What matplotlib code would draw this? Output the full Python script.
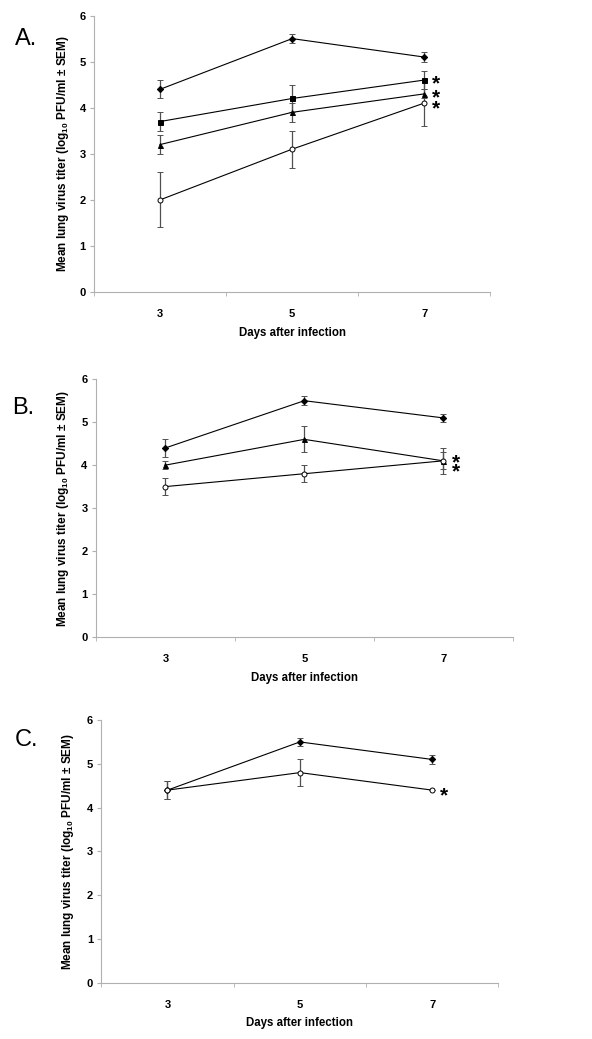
import matplotlib
matplotlib.use("Agg")
import matplotlib.pyplot as plt
from matplotlib.ticker import FixedLocator

plt.rcParams['font.family'] = ['Liberation Sans', 'DejaVu Sans']
plt.rcParams['mathtext.fontset'] = 'custom'
plt.rcParams['mathtext.rm'] = 'Liberation Sans:bold'
plt.rcParams['mathtext.bf'] = 'Liberation Sans:bold'

days = [3, 5, 7]

# panel A
a_diamond = [4.4, 5.5, 5.1]
a_diamond_err = [0.2, 0.1, 0.1]
a_square = [3.7, 4.2, 4.6]
a_square_err = [0.2, 0.3, 0.2]
a_triangle = [3.2, 3.9, 4.3]
a_triangle_err = [0.2, 0.2, 0.1]
a_circle = [2.0, 3.1, 4.1]
a_circle_err = [0.6, 0.4, 0.5]
a_stars = [4.6, 4.3, 4.06]

# panel B
b_diamond = [4.4, 5.5, 5.1]
b_diamond_err = [0.2, 0.1, 0.1]
b_triangle = [4.0, 4.6, 4.1]
b_triangle_err = [0.1, 0.3, 0.3]
b_circle = [3.5, 3.8, 4.1]
b_circle_err = [0.2, 0.2, 0.2]
b_stars = [4.15, 3.93]

# panel C
c_diamond = [4.4, 5.5, 5.1]
c_diamond_err = [0.2, 0.1, 0.1]
c_circle = [4.4, 4.8, 4.4]
c_circle_err = [0.2, 0.3, 0.0]
c_stars = [4.37]

ylab = r"Mean lung virus titer (log$_{\mathrm{10}}$ PFU/ml ± SEM)"

fig = plt.figure(figsize=(5.92, 10.39), dpi=100)


def series(ax, y, err, marker, face, ms=3.6):
    ax.errorbar(days, y, yerr=err, color='black', lw=0.8, marker=marker,
                ms=ms, mfc=face, mec='black', mew=0.7,
                ecolor='#505050', elinewidth=0.9, capsize=2.5, capthick=0.9,
                zorder=3)


def setup(ax, letter, letter_xy, ylab_x, xlab_y, stars):
    ax.set_xlim(2, 8)
    ax.set_ylim(0, 6)
    for s in ['top', 'right']:
        ax.spines[s].set_visible(False)
    for s in ['left', 'bottom']:
        ax.spines[s].set_color('#b0b0b0')
        ax.spines[s].set_linewidth(0.8)
    ax.set_xticks(days)
    ax.xaxis.set_minor_locator(FixedLocator([2, 4, 6, 8]))
    ax.tick_params(axis='x', which='major', length=0, pad=12, labelsize=8)
    ax.tick_params(axis='x', which='minor', length=3, color='#b0b0b0')
    ax.tick_params(axis='y', length=3, color='#b0b0b0', labelsize=8, pad=3)
    ax.set_yticks(range(7))
    for lab in ax.get_xticklabels() + ax.get_yticklabels():
        lab.set_fontweight('bold')
    ax.set_xlabel("Days after infection", fontsize=8.3, fontweight='bold')
    ax.xaxis.set_label_coords(0.5, xlab_y)
    ax.set_ylabel(ylab, fontsize=8.5, fontweight='bold')
    ax.yaxis.set_label_coords(ylab_x, 0.5)
    for sy in stars:
        ax.annotate("*", (7.18, sy), xytext=(0, -3), textcoords='offset points',
                    fontsize=15, fontweight='bold', ha='center', va='center')
    fig.text(letter_xy[0], letter_xy[1], letter, fontsize=17,
             ha='left', va='center')


axA = fig.add_axes([0.159, 0.719, 0.669, 0.266])
series(axA, a_diamond, a_diamond_err, 'D', 'black', ms=3.2)
series(axA, a_square, a_square_err, 's', 'black')
series(axA, a_triangle, a_triangle_err, '^', 'black')
series(axA, a_circle, a_circle_err, 'o', 'white')
setup(axA, "A.", (0.025, 0.962), -0.058, -0.125, a_stars)

axB = fig.add_axes([0.162, 0.387, 0.704, 0.248])
series(axB, b_diamond, b_diamond_err, 'D', 'black', ms=3.2)
series(axB, b_triangle, b_triangle_err, '^', 'black')
series(axB, b_circle, b_circle_err, 'o', 'white')
setup(axB, "B.", (0.02, 0.607), -0.06, -0.135, b_stars)

axC = fig.add_axes([0.171, 0.054, 0.671, 0.253])
series(axC, c_diamond, c_diamond_err, 'D', 'black', ms=3.2)
series(axC, c_circle, c_circle_err, 'o', 'white')
setup(axC, "C.", (0.025, 0.288), -0.063, -0.13, c_stars)

fig.savefig("out.png", dpi=100, facecolor='white')
